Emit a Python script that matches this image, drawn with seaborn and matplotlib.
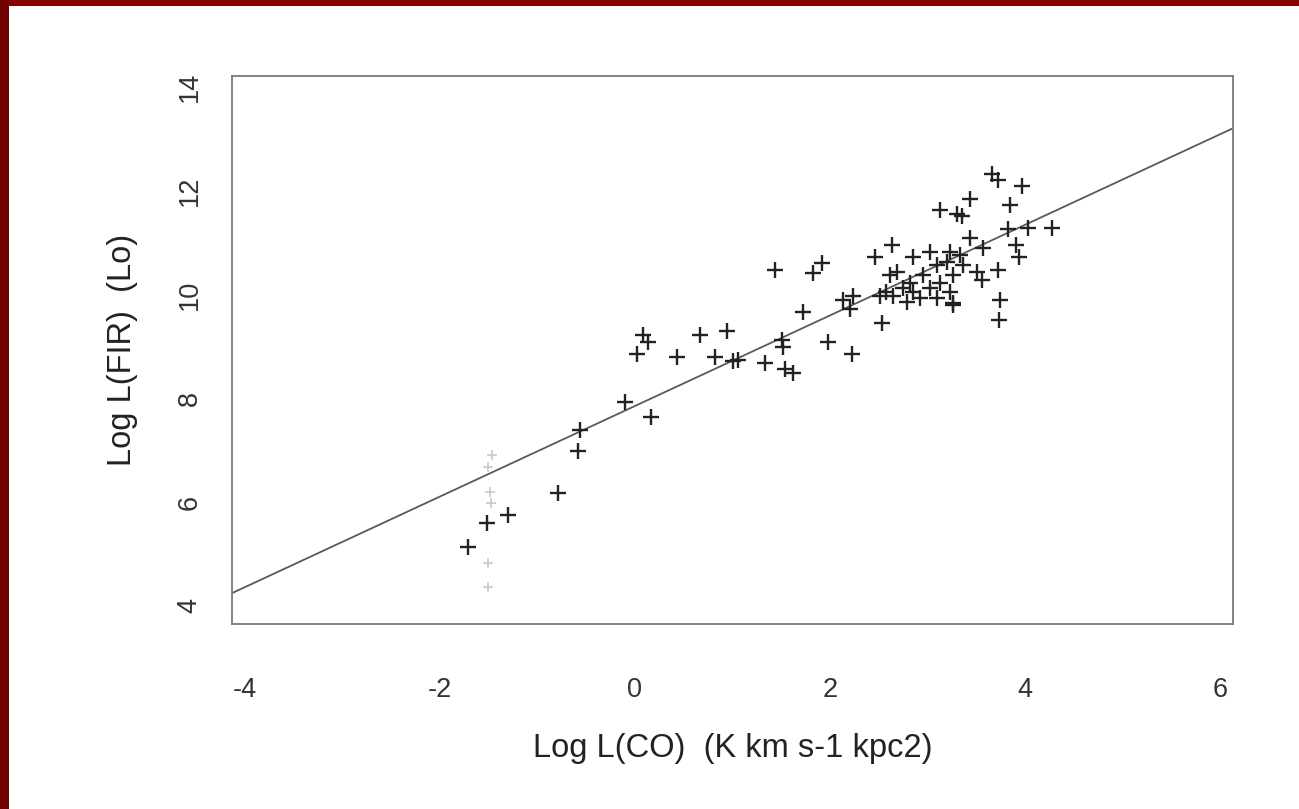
import matplotlib
matplotlib.use("Agg")
import matplotlib.pyplot as plt
import seaborn as sns
import pandas as pd
import numpy as np
from matplotlib.patches import Rectangle

# ---- data ----
log_co = [-1.71, -1.52, -1.30, -0.79, -0.58, -0.56, -0.10, 0.17, 0.02, 0.08,
          0.13, 0.43, 0.67, 0.94, 0.82, 1.01, 1.06, 1.33, 1.51, 1.52,
          1.54, 1.62, 1.72, 1.98, 2.23, 1.44, 1.83, 1.92, 2.13, 2.21,
          2.24, 2.53, 2.46, 2.64, 2.85, 3.66, 3.72, 3.97, 3.44, 3.13,
          3.30, 3.85, 4.03, 3.83, 4.28, 3.91, 3.94, 3.72, 3.56, 3.74,
          3.73, 3.26, 3.44, 3.57, 3.36, 3.51, 3.23, 3.03, 3.10, 2.95,
          2.82, 2.69, 2.62, 2.58, 2.65, 2.75, 2.85, 2.92, 2.79, 3.03,
          3.13, 3.26, 3.23, 3.26, 3.10, 2.51, 3.20, 3.33, 3.35]
log_fir = [5.13, 5.59, 5.75, 6.17, 6.98, 7.38, 7.92, 7.64, 8.86, 9.22,
           9.08, 8.79, 9.22, 9.29, 8.79, 8.72, 8.73, 8.68, 9.12, 8.98,
           8.56, 8.48, 9.66, 9.08, 8.85, 10.47, 10.41, 10.60, 9.89, 9.73,
           9.98, 9.45, 10.72, 10.95, 10.72, 12.33, 12.20, 12.10, 11.85, 11.62,
           11.56, 11.72, 11.28, 11.26, 11.28, 10.95, 10.72, 10.47, 10.27, 9.89,
           9.50, 9.83, 11.08, 10.89, 10.56, 10.43, 10.81, 10.81, 10.56, 10.37,
           10.23, 10.43, 10.37, 10.04, 9.98, 10.12, 10.04, 9.93, 9.85, 10.12,
           10.23, 10.37, 10.04, 9.79, 9.93, 9.98, 10.62, 10.76, 11.52]

# faint (ghost) marks in the scan
faint_co = [-1.46, -1.51, -1.49, -1.47, -1.51, -1.51]
faint_fir = [6.90, 6.67, 6.19, 5.98, 4.82, 4.36]

fit_slope = 0.873
fit_intercept = 7.85

x_ticks = [-4, -2, 0, 2, 4, 6]
y_ticks = [4, 6, 8, 10, 12, 14]

df = pd.DataFrame({"co": log_co, "fir": log_fir})
df_faint = pd.DataFrame({"co": faint_co, "fir": faint_fir})

sns.set_style("white")
plt.rcParams["font.family"] = ["Liberation Sans", "DejaVu Sans"]

fig = plt.figure(figsize=(12.99, 8.09), dpi=100)
ax = fig.add_axes([0.1786, 0.2287, 0.949 - 0.1786, 0.906 - 0.2287])

xlim = (-4.13, 6.13)
ax.set_xlim(*xlim)
ax.set_ylim(3.65, 14.21)

xs = np.array(xlim)
ax.plot(xs, fit_intercept + fit_slope * xs, color="#5a5a5a", lw=1.3, zorder=1)

sns.scatterplot(data=df_faint, x="co", y="fir", marker="+", s=45,
                color="#c8c8c8", linewidth=1.2, ax=ax, zorder=2)
sns.scatterplot(data=df, x="co", y="fir", marker="+", s=130,
                color="#222222", linewidth=1.7, ax=ax, zorder=3)

ax.set_xticks(x_ticks)
ax.set_yticks(y_ticks)
ax.set_xticklabels([str(t) for t in x_ticks], fontsize=19.5, color="#333333")
ax.set_yticklabels([str(t) for t in y_ticks], fontsize=19.5, color="#333333",
                   rotation=90, va="center")
ax.tick_params(axis="y", direction="in", length=9, width=1.2, color="#666666", pad=21)
ax.tick_params(axis="x", direction="in", length=5, width=1.2, color="#666666", pad=38)

ax.set_xlabel("Log L(CO)  (K km s-1 kpc2)", fontsize=23.5, color="#222222", labelpad=22)
ax.set_ylabel("Log L(FIR)  (Lo)", fontsize=23.5, color="#222222", labelpad=28)

for sp in ax.spines.values():
    sp.set_color("#7a7a7a")
    sp.set_linewidth(1.3)

# dark red frame of the slide
fig.patches.append(Rectangle((0, 1 - 6 / 809), 1, 6 / 809, transform=fig.transFigure,
                             facecolor="#880000", edgecolor="none", zorder=10))
fig.patches.append(Rectangle((0, 0), 9 / 1299, 1, transform=fig.transFigure,
                             facecolor="#700000", edgecolor="none", zorder=10))

fig.savefig("out.png", dpi=100, facecolor="white")
